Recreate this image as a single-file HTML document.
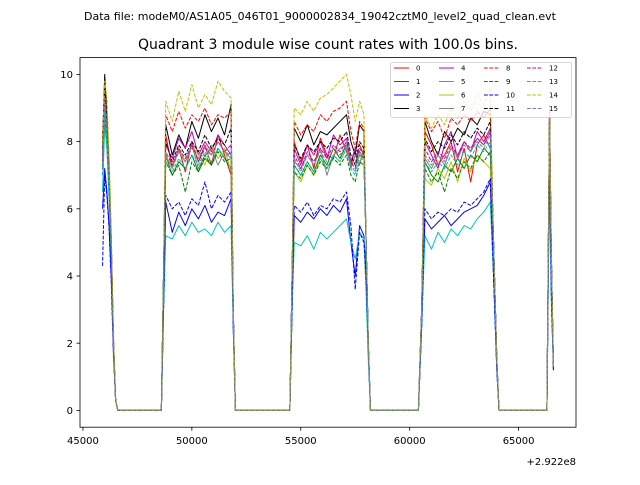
<!DOCTYPE html>
<html><head><meta charset="utf-8"><style>
body{margin:0;background:#fff;}
svg{font-family:"DejaVu Sans","Liberation Sans",sans-serif;}
</style></head><body>
<svg id="chart" width="640" height="480" xmlns="http://www.w3.org/2000/svg">
<rect width="640" height="480" fill="#fff"/>
<text x="320" y="20" font-size="11" text-anchor="middle">Data file: modeM0/AS1A05_046T01_9000002834_19042cztM0_level2_quad_clean.evt</text>
<text x="328" y="49" font-size="14" text-anchor="middle">Quadrant 3 module wise count rates with 100.0s bins.</text>
<g id="plot"></g>
<g id="axes"></g>
<g id="legend"></g>
</svg>
<script>
const times=[45900,46000,46100,46200,46300,46400,46500,46600,48600,48700,48800,49100,49400,49700,50000,50300,50600,50900,51200,51500,51800,51900,52000,54500,54600,54700,55000,55300,55600,55900,56200,56500,56800,57100,57300,57500,57700,57900,58000,58100,58200,60400,60550,60700,61000,61300,61600,61900,62200,62500,62800,63100,63400,63700,63850,64000,64100,66300,66420,66500,66600];
const s0=[7.5,9.3,8.6,7.2,5,2.2,0.3,0, 0,4,8.2, 7.2,7.8,7.1,8.0,7.4,7.9,7.3,8.2,7.6,7.0, 3,0, 0,4,8.0, 7.4,7.9,7.2,8.1,7.6,7.5,8.2,7.7, 7.3,7.8,7.9,7.6,5,2,0, 0,3,8.3, 7.9,7.3,7.6,8.0,7.1,7.8,6.8,7.9,8.2,7.8, 5,1.5,0, 0,8.8,4.5,1.3];
const s1=[7.2,9.0,8.2,6.8,4.8,2.0,0.3,0, 0,4,7.6, 7.0,7.4,7.2,7.6,7.1,7.5,7.3,7.8,7.5,7.2, 3,0, 0,4,7.3, 7.0,7.4,7.1,7.6,7.3,7.8,7.5,7.9, 7.2,7.6,7.7,7.5,5,2,0, 0,3,7.4, 7.0,6.8,7.3,7.1,7.5,7.2,7.6,7.4,7.8,7.6, 5,1.5,0, 0,8.7,4.5,1.3];
const s2=[6.0,7.2,6.5,5.5,4.0,1.8,0.3,0, 0,3,6.2, 5.3,5.9,5.5,6.0,5.7,6.1,5.6,5.9,5.8,6.3, 2.5,0, 0,3,5.8, 5.6,5.9,5.7,6.0,5.8,6.1,5.9,6.3, 5.0,4.0,5.5,5.2,4,1.8,0, 0,2.5,5.7, 5.4,5.6,5.8,5.5,5.7,5.9,6.0,6.1,6.4,6.8, 4,1.2,0, 0,7.5,3.5,1.2];
const s3=[8.0,10.0,8.8,7.2,5,2.1,0.3,0, 0,4,8.5, 7.6,8.2,7.8,8.6,8.1,8.8,8.3,8.7,8.2,9.1, 3,0, 0,4,8.4, 8.0,8.5,7.9,8.3,8.2,8.4,8.6,8.8, 8.0,7.6,8.5,8.3,5,2,0, 0,3,8.6, 8.0,7.6,8.3,8.0,8.4,8.2,8.7,8.5,8.9,8.8, 5,1.5,0, 0,9,4.8,1.3];
const s4=[7.5,9.2,8.3,6.9,4.8,2.0,0.3,0, 0,4,7.9, 7.5,8.1,7.8,8.3,7.6,8.0,7.7,8.2,7.9,7.6, 3,0, 0,4,7.8, 7.3,7.9,7.6,8.0,7.5,8.2,7.9,8.1, 7.4,7.8,7.6,7.5,5,2,0, 0,3,8.0, 7.6,7.2,7.9,8.3,7.5,8.0,7.7,8.3,8.0,8.4, 5,1.5,0, 0,8.9,4.6,1.3];
const s5=[6.5,8.5,7.8,6.3,4.5,1.9,0.3,0, 0,3,5.2, 5.1,5.5,5.2,5.6,5.3,5.4,5.2,5.6,5.3,5.5, 2.5,0, 0,3,5.0, 4.9,5.2,4.8,5.3,5.1,5.3,5.5,5.7, 5.0,4.5,5.3,5.1,3.5,1.5,0, 0,2.5,5.2, 4.8,5.3,5.0,5.4,5.2,5.5,5.4,5.7,5.9,6.2, 4,1.2,0, 0,7,3.3,1.2];
const s6=[7.8,9.6,8.6,7.0,5,2.1,0.3,0, 0,4,7.6, 7.2,7.8,7.4,7.9,7.6,7.3,7.9,7.5,7.8,7.1, 3,0, 0,4,7.1, 6.8,7.3,7.0,7.5,7.2,7.6,7.4,7.8, 7.2,7.6,7.4,7.7,5,2,0, 0,3,6.9, 6.7,7.2,6.9,7.4,6.8,7.5,7.1,7.6,7.4,7.2, 5,1.5,0, 0,8.8,4.5,1.3];
const s7=[7.6,9.4,8.4,7.0,5,2.0,0.3,0, 0,4,7.5, 7.3,7.7,7.4,7.9,7.2,7.6,7.8,7.3,7.7,7.5, 3,0, 0,4,7.4, 7.2,7.6,7.3,7.8,7.0,7.6,7.8,7.9, 7.2,7.6,7.3,7.8,5,2,0, 0,3,7.5, 7.2,7.6,7.3,7.8,7.6,8.0,7.7,8.1,7.9,8.3, 5,1.5,0, 0,8.9,4.6,1.3];
const s8=[8.2,9.5,8.9,7.5,5.2,2.2,0.3,0, 0,4,8.8, 8.3,8.9,8.4,8.8,8.6,9.0,8.5,8.8,8.7,8.9, 3,0, 0,4,8.6, 8.2,8.5,8.3,8.8,8.6,8.9,9.0,9.2, 8.3,7.8,8.6,8.4,5,2,0, 0,3,8.7, 8.3,8.6,8.1,8.7,8.5,8.8,8.6,8.9,8.7,9.0, 5,1.5,0, 0,9,4.8,1.3];
const s9=[7.0,8.8,8.0,6.6,4.7,2.0,0.3,0, 0,4,7.4, 7.0,7.3,6.5,7.4,7.1,7.6,7.3,7.7,7.4,7.5, 3,0, 0,4,7.1, 6.9,7.3,7.0,7.4,7.2,7.5,7.3,7.6, 7.0,6.8,7.4,7.3,5,2,0, 0,3,7.2, 6.8,7.1,6.5,7.2,6.9,7.4,7.2,7.6,7.4,7.7, 5,1.5,0, 0,8.7,4.5,1.3];
const s10=[4.3,7.0,6.4,5.4,3.8,1.6,0.3,0, 0,3,6.4, 6.0,6.2,5.8,6.3,6.1,6.8,6.0,6.4,6.2,6.5, 2.5,0, 0,3,6.1, 5.9,6.2,5.8,6.1,6.0,6.3,6.2,6.5, 5.5,3.6,5.3,5.0,4,1.8,0, 0,2.5,6.0, 5.7,5.9,5.8,6.0,5.9,6.2,6.1,6.3,6.5,6.9, 4,1.2,0, 0,7.6,3.5,1.2];
const s11=[7.8,9.7,8.7,7.2,5,2.1,0.3,0, 0,4,8.0, 7.4,7.9,7.6,8.0,7.7,8.2,7.8,8.1,7.9,8.4, 3,0, 0,4,7.9, 7.5,7.9,7.7,8.0,7.8,8.1,8.0,8.3, 7.6,7.3,8.0,7.8,5,2,0, 0,3,8.1, 7.7,8.0,7.8,8.2,7.9,8.3,8.1,8.4,8.2,8.6, 5,1.5,0, 0,9,4.7,1.3];
const s12=[7.4,9.1,8.2,6.8,4.8,2.0,0.3,0, 0,4,7.7, 7.3,7.8,7.5,7.9,7.4,7.8,7.6,8.0,7.7,7.9, 3,0, 0,4,7.6, 7.2,7.7,7.4,7.8,7.5,7.9,7.7,8.0, 7.4,7.2,7.8,7.6,5,2,0, 0,3,7.8, 7.4,7.7,7.5,7.9,7.6,8.0,7.8,8.1,7.9,8.3, 5,1.5,0, 0,8.8,4.6,1.3];
const s13=[7.0,8.9,8.0,6.6,4.7,2.0,0.3,0, 0,4,7.4, 7.1,7.5,7.2,7.6,7.3,7.7,7.4,7.8,7.5,7.7, 3,0, 0,4,7.3, 7.0,7.4,7.1,7.5,7.2,7.6,7.4,7.8, 7.2,7.0,7.6,7.4,5,2,0, 0,3,7.4, 7.1,7.4,7.2,7.6,7.3,7.7,7.5,7.9,7.7,8.0, 5,1.5,0, 0,8.6,4.4,1.3];
const s14=[8.0,9.8,9.3,7.6,5.3,2.3,0.3,0, 0,4,9.2, 8.6,9.5,8.9,9.7,9.0,9.4,9.1,9.8,9.5,9.3, 3,0, 0,4,9.0, 8.8,9.2,8.9,9.3,9.4,9.6,9.8,10.0, 9.4,8.6,9.2,8.8,5,2,0, 0,3,8.8, 8.4,8.8,8.5,9.0,8.7,9.2,8.9,9.4,9.1,9.6, 5,1.5,0, 0,9.1,4.8,1.3];
const s15=[7.5,9.3,8.4,6.9,4.9,2.0,0.3,0, 0,4,7.6, 7.2,7.7,7.4,7.8,7.5,7.9,7.6,8.0,7.7,7.6, 3,0, 0,4,7.5, 7.1,7.6,7.3,7.7,7.4,7.8,7.6,7.9, 7.3,7.1,7.7,7.5,5,2,0, 0,3,7.6, 7.3,7.6,7.4,7.8,7.5,7.9,7.7,8.0,7.8,8.2, 5,1.5,0, 0,8.8,4.6,1.3];
const seriesValues=[s0,s1,s2,s3,s4,s5,s6,s7,s8,s9,s10,s11,s12,s13,s14,s15];
const seriesLabels=["0","1","2","3","4","5","6","7","8","9","10","11","12","13","14","15"];
const xTicks=[45000,50000,55000,60000,65000];
const xTickLabels=["45000","50000","55000","60000","65000"];
const yTicks=[0,2,4,6,8,10];
const yTickLabels=["0","2","4","6","8","10"];

const NS="http://www.w3.org/2000/svg";
const L=80,R=576,T=57.6,B=427.2;
const X0=44865,X1=67635,Y0=-0.5,Y1=10.5;
const colors=["#ff0000","#008000","#0000ff","#000000","#bf00bf","#00bfbf","#bfbf00","#808080"];
function xs(v){return L+(v-X0)/(X1-X0)*(R-L);}
function ys(v){return B-(v-Y0)/(Y1-Y0)*(B-T);}
function mk(tag,attrs,parent){const e=document.createElementNS(NS,tag);for(const k in attrs)e.setAttribute(k,attrs[k]);parent.appendChild(e);return e;}
const plot=document.getElementById('plot');
seriesValues.forEach((vals,i)=>{
  const d=vals.map((v,j)=>(j?'L':'M')+xs(times[j]).toFixed(2)+' '+ys(v).toFixed(2)).join(' ');
  const p=mk('path',{d:d,fill:'none',stroke:colors[i%8],'stroke-width':1,'stroke-dasharray':i>=8?'3.7,1.6':'none','stroke-linejoin':'round'},plot);
  
  
});
const ax=document.getElementById('axes');
const frame=mk('rect',{x:L,y:T,width:R-L,height:B-T,fill:'none',stroke:'#000','stroke-width':0.8},ax);


xTicks.forEach((t,i)=>{
  const x=xs(t);
  const tk=mk('line',{x1:x,x2:x,y1:B,y2:B+3.5,stroke:'#000','stroke-width':0.8},ax);
  
  
  const tx=mk('text',{x:x,y:B+17,'font-size':10,'text-anchor':'middle'},ax);
  tx.textContent=xTickLabels[i];
  
  
});
yTicks.forEach((t,i)=>{
  const y=ys(t);
  const tk=mk('line',{x1:L-3.5,x2:L,y1:y,y2:y,stroke:'#000','stroke-width':0.8},ax);
  
  
  const tx=mk('text',{x:L-7,y:y+3.6,'font-size':10,'text-anchor':'end'},ax);
  tx.textContent=yTickLabels[i];
  
  
});
const off=mk('text',{x:R,y:465,'font-size':10,'text-anchor':'end'},ax);
off.textContent='+2.922e8';


const lg=document.getElementById('legend');
const box=mk('rect',{x:390.5,y:62.5,width:181,height:55,rx:2,fill:'#fff','fill-opacity':0.8,stroke:'#ccc','stroke-width':0.8},lg);


const colX=[394,439,484,527];
const rowY=[68,81.5,95,108.5];
seriesLabels.forEach((lab,i)=>{
  const c=Math.floor(i/4),r=i%4;
  const g=mk('g',{},lg);
  
  
  mk('line',{x1:colX[c],x2:colX[c]+15,y1:rowY[r],y2:rowY[r],stroke:colors[i%8],'stroke-width':1,'stroke-dasharray':i>=8?'3.7,1.6':'none'},g);
  const t=mk('text',{x:colX[c]+22,y:rowY[r]+2.5,'font-size':7},g);
  t.textContent=lab;
});
</script>
</body></html>
